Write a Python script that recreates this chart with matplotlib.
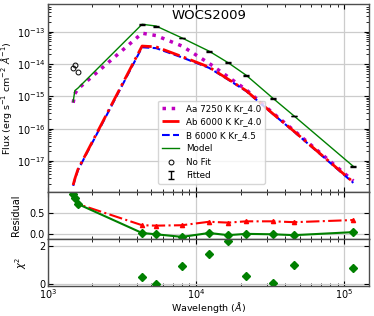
import numpy as np
import matplotlib
matplotlib.use('Agg')
import matplotlib.pyplot as plt

# filter wavelengths (Angstrom)
wave = [1481, 1520, 1596, 4320, 5370, 8040, 12240, 16440, 21770, 33100, 45900, 115000]

# model fluxes at the filter points
flux_aa = [6.3e-16, 1.2e-15, 1.7e-15, 9.0e-14, 7.6e-14, 3.6e-14, 1.05e-14, 4.0e-15, 1.6e-15, 3.0e-16, 8.6e-17, 2.4e-18]
flux_ab = [1.8e-18, 2.8e-18, 5.5e-18, 3.6e-14, 3.4e-14, 1.7e-14, 8.0e-15, 3.4e-15, 1.5e-15, 2.85e-16, 8.2e-17, 2.2e-18]
flux_b = [1.7e-18, 2.6e-18, 5.2e-18, 3.3e-14, 3.1e-14, 1.6e-14, 7.6e-15, 3.3e-15, 1.45e-15, 2.8e-16, 8.0e-17, 2.1e-18]
flux_model = [6.8e-16, 1.5e-15, 1.8e-15, 1.7e-13, 1.5e-13, 6.4e-14, 2.5e-14, 1.1e-14, 4.5e-15, 8.6e-16, 2.45e-16, 6.8e-18]

# observed points that were not fitted
nofit_wave = [1481, 1520, 1596]
nofit_flux = [7.7e-15, 9.3e-15, 5.5e-15]

# fitted observations
fit_wave = [4320, 5370, 8040, 12240, 16440, 21770, 33100, 45900, 115000]
fit_flux = [1.7e-13, 1.5e-13, 6.4e-14, 2.5e-14, 1.1e-14, 4.5e-15, 8.6e-16, 2.45e-16, 6.8e-18]
fit_err = [6e-15, 5e-15, 2e-15, 8e-16, 3e-16, 1.2e-16, 2e-17, 6e-18, 3e-19]

# residuals
resid_model = [0.93, 0.85, 0.70, 0.03, 0.0, -0.06, 0.03, -0.02, 0.01, 0.0, -0.02, 0.05]
resid_ab = [0.93, 0.85, 0.70, 0.21, 0.20, 0.21, 0.29, 0.27, 0.30, 0.30, 0.28, 0.33]

# chi square of fitted points
chi2 = [0.37, 0.02, 0.95, 1.58, 2.26, 0.40, 0.05, 0.97, 0.85]

plt.rcParams['font.size'] = 7
fig = plt.figure(figsize=(3.74, 3.16), dpi=100)
ax1 = fig.add_axes([0.128, 0.3934, 0.859, 0.5939])
ax2 = fig.add_axes([0.128, 0.2427, 0.859, 0.1507], sharex=ax1)
ax3 = fig.add_axes([0.128, 0.0959, 0.859, 0.1468], sharex=ax1)

ax1.plot(wave, flux_aa, ':', color='m', lw=2.5, label='Aa 7250 K Kr_4.0')
ax1.plot(wave, flux_b, '--', color='b', lw=1.5, label='B 6000 K Kr_4.5', zorder=2)
ax1.plot(wave, flux_ab, '-.', color='r', lw=2, label='Ab 6000 K Kr_4.0', zorder=2.1)
ax1.plot(wave, flux_model, '-', color='g', lw=1, label='Model')
ax1.plot(nofit_wave, nofit_flux, 'o', mfc='none', mec='k', ms=3.5, mew=0.7, ls='none', label='No Fit')
ax1.errorbar(fit_wave, fit_flux, yerr=fit_err, fmt='none', ecolor='k', capsize=2.5, elinewidth=1, label='Fitted')
ax1.text(0.5, 0.94, 'WOCS2009', ha='center', va='center', transform=ax1.transAxes, fontsize=9.5)

ax1.set_xscale('log')
ax1.set_yscale('log')
ax1.set_xlim(1e3, 1.47e5)
ax1.set_ylim(1.12e-18, 7.2e-13)
ax1.set_ylabel(r'Flux (erg s$^{-1}$ cm$^{-2}$ $\AA^{-1}$)', fontsize=6.8)
ax1.yaxis.set_label_coords(-0.105, 0.5)

h, l = ax1.get_legend_handles_labels()
order = [l.index(s) for s in ['Aa 7250 K Kr_4.0', 'Ab 6000 K Kr_4.0', 'B 6000 K Kr_4.5', 'Model', 'No Fit', 'Fitted']]
ax1.legend([h[i] for i in order], [l[i] for i in order], loc='lower left',
           bbox_to_anchor=(0.33, 0.02), fontsize=6.3, framealpha=0.8)

ax2.plot(wave, resid_ab, '-.', color='r', lw=1.5, marker='^', ms=3)
ax2.plot(wave, resid_model, '-', color='g', lw=1.5, marker='D', ms=4.5)
ax2.set_ylim(-0.116, 0.986)
ax2.set_yticks([0.0, 0.5])
ax2.set_ylabel('Residual')
ax2.yaxis.set_label_coords(-0.083, 0.5)

ax3.plot(fit_wave, chi2, 'D', color='g', ms=4.5, ls='none')
ax3.set_ylim(-0.09, 2.34)
ax3.set_yticks([0, 2])
ax3.set_ylabel(r'$\chi^2$')
ax3.yaxis.set_label_coords(-0.06, 0.5)
ax3.set_xlabel(r'Wavelength ($\AA$)', fontsize=6.8)
ax3.xaxis.set_label_coords(0.5, -0.3)

for ax in (ax1, ax2, ax3):
    ax.grid(True, color='0.8', lw=0.9)
    ax.tick_params(which='both', direction='in', top=True, right=True, labelsize=7, pad=2)
    ax.tick_params(which='major', length=3.5)
    ax.tick_params(which='minor', length=2)
    for sp in ax.spines.values():
        sp.set_color('0.3')
        sp.set_linewidth(1.0)
ax3.tick_params(axis='x', which='both', pad=1)
plt.setp(ax1.get_xticklabels(), visible=False)
plt.setp(ax2.get_xticklabels(), visible=False)

fig.savefig('out.png', dpi=100)
